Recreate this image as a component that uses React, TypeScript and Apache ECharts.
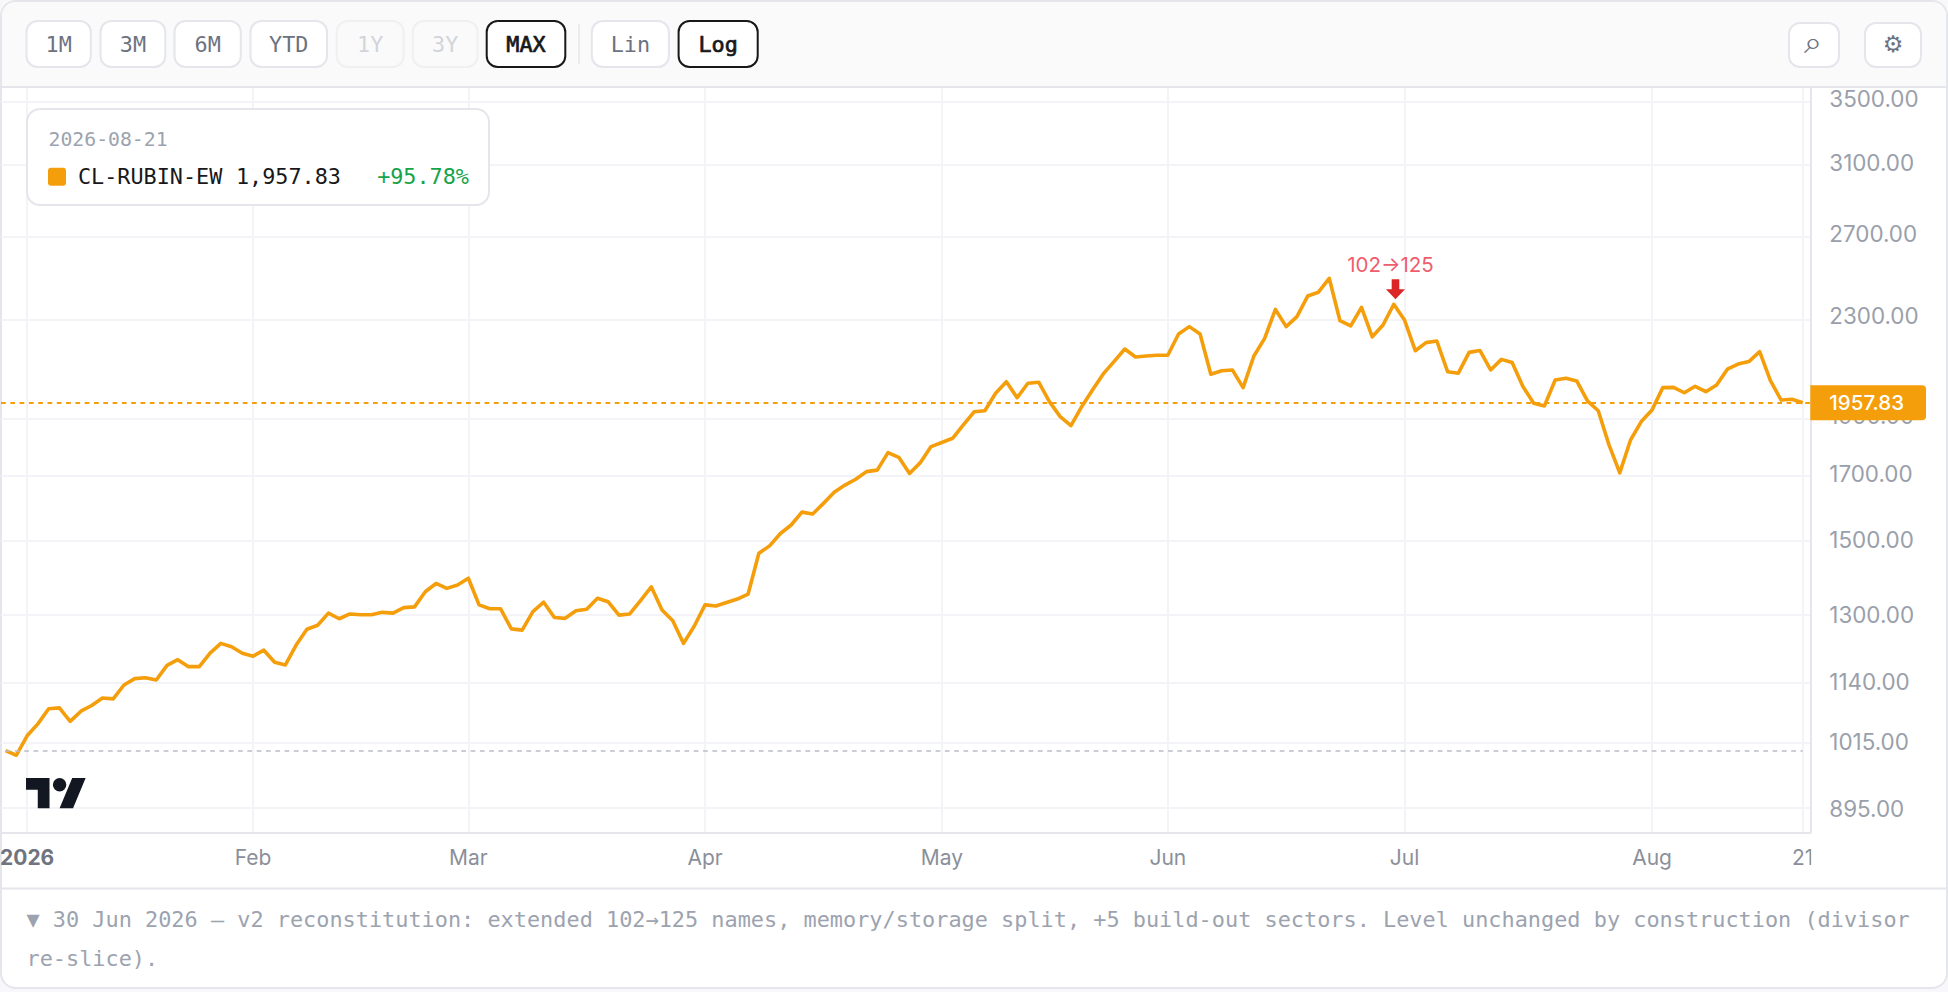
import React, { useEffect, useRef } from "react";
import * as echarts from "echarts";

const values = [
  1000, 991, 1029, 1053, 1084, 1086, 1058, 1079, 1091, 1107, 1105, 1135, 1149, 1151, 1146, 1179,
  1192, 1176, 1176, 1207, 1230, 1222, 1207, 1200, 1214, 1186, 1180, 1226, 1264, 1274, 1304, 1290,
  1302, 1300, 1300, 1306, 1304, 1318, 1320, 1359, 1381, 1368, 1377, 1395, 1325, 1315, 1315, 1265,
  1262, 1308, 1332, 1293, 1291, 1310, 1314, 1342, 1333, 1299, 1302, 1336, 1372, 1312, 1285, 1230,
  1272, 1325, 1322, 1331, 1340, 1353, 1464, 1485, 1521, 1546, 1585, 1579, 1612, 1647, 1670, 1689,
  1714, 1719, 1778, 1762, 1708, 1744, 1799, 1813, 1828, 1876, 1924, 1928, 1994, 2039, 1977, 2033,
  2037, 1962, 1906, 1873, 1943, 2007, 2070, 2120, 2172, 2139, 2143, 2146, 2146, 2236, 2268, 2236,
  2069, 2083, 2086, 2016, 2143, 2217, 2345, 2268, 2312, 2406, 2424, 2490, 2294, 2271, 2354, 2224,
  2275, 2368, 2297, 2165, 2199, 2206, 2079, 2073, 2158, 2166, 2086, 2129, 2116, 2020, 1956, 1946,
  2046, 2053, 2042, 1965, 1928, 1805, 1710, 1822, 1888, 1931, 2016, 2017, 1996, 2021, 2000, 2026,
  2089, 2110, 2120, 2161, 2043, 1968, 1971, 1957.83,
];
const monthIndex = [2, 23, 43, 65, 87, 108, 130, 153, 167];
const monthLabels = ["2026", "Feb", "Mar", "Apr", "May", "Jun", "Jul", "Aug", "21"];
const priceTicks = [895, 1015, 1140, 1300, 1500, 1700, 1900, 2300, 2700, 3100, 3500];
const priceLabelAnchors = [894.5, 1017, 1142, 1301, 1502, 1708, 1909, 2318, 2713, 3116, 3525];
const lastPrice = 1957.83;
const basePrice = 1000;
const markerIndex = 129;
const markerLabel = "102→125";
const rangeLabels = ["1M", "3M", "6M", "YTD", "1Y", "3Y", "MAX"];
const scaleLabels = ["Lin", "Log"];
const legendDate = "2026-08-21";
const legendName = "CL-RUBIN-EW";
const legendValue = "1,957.83";
const legendChange = "+95.78%";
const noteLines = [
  "▼ 30 Jun 2026 — v2 reconstitution: extended 102→125 names, memory/storage split, +5 build-out sectors. Level unchanged by construction (divisor",
  "re-slice).",
];

echarts.graphic.registerShape(
  "tvLogo",
  echarts.graphic.extendPath(
    "M14 22H7V11H0V4h14v18zM28 22h-8l7.5-18h8L28 22zM24 8a4 4 0 1 1-8 0a4 4 0 0 1 8 0z",
    {},
  ),
);

const ORANGE = "#f59e0b";
const GRID = "#f3f4f7";
const BORDER = "#e5e6eb";
const MUTED = "#9ca3af";
const MONO = "'DejaVu Sans Mono', monospace";
const UI = "Inter, sans-serif";
const monoFont = `21.8px ${MONO}`;
const noteFont = `21.89px ${MONO}`;
const dateFont = `19.8px ${MONO}`;

function box(x0: number, y0: number, x1: number, y1: number, fill: string, stroke: string, lw = 2, r: any = 11, z = 5) {
  return {
    type: "rect",
    z,
    silent: true,
    shape: { x: x0, y: y0, width: x1 - x0, height: y1 - y0, r },
    style: { fill, stroke, lineWidth: lw },
  };
}
function label(text: string, x: number, y: number, fill: string, align = "center", font = monoFont, z = 6, heavy = false) {
  return {
    type: "text",
    z,
    silent: true,
    x,
    y,
    style: {
      text,
      font,
      fill,
      align,
      verticalAlign: "middle",
      textAlign: align,
      textVerticalAlign: "middle",
      ...(heavy ? { stroke: fill, lineWidth: 0.7 } : {}),
    },
  };
}

function buildGraphics() {
  const rangeBoxes = [
    [26.5, 90.8], [100.5, 165.3], [174.5, 240.8], [250.5, 327], [336.7, 403.6], [412.8, 477.6], [486.7, 565.3],
  ];
  const scaleBoxes = [[591.8, 668.9], [678.6, 757.7]];
  const els: any[] = [
    box(1, 1, 1947, 988, "#ffffff", BORDER, 2, 15, -5),
    box(2, 2, 1946, 87, "#fafafa", "transparent", 0, [14, 14, 0, 0], -4),
    { type: "line", z: 4, silent: true, shape: { x1: 1, y1: 87, x2: 1947, y2: 87 }, style: { stroke: BORDER, lineWidth: 2 } },
    { type: "line", z: -3, silent: true, shape: { x1: 1, y1: 888.5, x2: 1947, y2: 888.5 }, style: { stroke: BORDER, lineWidth: 2 } },
  ];
  rangeLabels.forEach((t, i) => {
    const [a, b] = rangeBoxes[i];
    const disabled = t === "1Y" || t === "3Y";
    const active = t === "MAX";
    els.push(box(a, 21, b, 67, active ? "#fff" : disabled ? "#fafafa" : "#fff", active ? "#18181b" : disabled ? "#f0f0f3" : BORDER));
    els.push(label(t, (a + b) / 2, 44.5, active ? "#18181b" : disabled ? "#d1d5db" : "#6b7280", "center", monoFont, 6, active));
  });
  els.push({ type: "line", z: 5, silent: true, shape: { x1: 579, y1: 24, x2: 579, y2: 64 }, style: { stroke: BORDER, lineWidth: 1.5 } });
  scaleLabels.forEach((t, i) => {
    const [a, b] = scaleBoxes[i];
    const active = t === "Log";
    els.push(box(a, 21, b, 67, "#fff", active ? "#18181b" : BORDER));
    els.push(label(t, (a + b) / 2, 44.5, active ? "#18181b" : "#6b7280", "center", monoFont, 6, active));
  });
  els.push(box(1789, 23, 1839, 67, "#fff", BORDER));
  els.push(box(1865, 23, 1921, 67, "#fff", BORDER));
  els.push(label("⌕", 1813, 42, "#6b7280", "center", "32px 'DejaVu Sans'"));
  els.push(label("⚙", 1893, 44, "#6b7280", "center", "23px 'DejaVu Sans'"));

  els.push(box(27, 109, 489, 205, "#ffffff", BORDER, 2, 13, 20));
  els.push(label(legendDate, 48.5, 139.5, MUTED, "left", dateFont, 21));
  els.push(box(48, 167.7, 66, 185.7, ORANGE, "transparent", 0, 3, 21));
  els.push(label(legendName, 78, 176.5, "#18181b", "left", monoFont, 21));
  els.push(label(legendValue, 236, 176.5, "#18181b", "left", monoFont, 21));
  els.push(label(legendChange, 469, 176.5, "#16a34a", "right", monoFont, 21));

  els.push({ type: "tvLogo", z: 3, silent: true, x: 26, y: 771.3, scaleX: 1.68, scaleY: 1.68, style: { fill: "#131722" } });
  els.push(label(noteLines[0], 26.5, 919.5, MUTED, "left", noteFont));
  els.push(label(noteLines[1], 26.5, 958, MUTED, "left", noteFont));
  els.push(box(1811.2, 836, 1945, 887, "#ffffff", "transparent", 0, 0, 10));
  return els;
}

export default function App() {
  const ref = useRef<HTMLDivElement>(null);
  useEffect(() => {
    document.body.style.margin = "0";
    document.body.style.background = "#f8f8fa";
    const chart = echarts.init(ref.current!, undefined, { renderer: "svg" });
    chart.setOption({
      animation: false,
      backgroundColor: "transparent",
      graphic: { elements: buildGraphics() },
      grid: { left: 1, top: 87, width: 1809.3, height: 745.4, containLabel: false, outerBoundsMode: "none" },
      xAxis: {
        type: "value",
        min: -0.4275,
        max: 167.706,
        axisLine: { show: true, onZero: false, lineStyle: { color: BORDER, width: 2 } },
        axisTick: { show: false, customValues: monthIndex },
        splitLine: { show: true, lineStyle: { color: GRID, width: 2 } },
        axisLabel: {
          customValues: monthIndex,
          margin: 14.5,
          color: "#8b8f9a",
          fontFamily: UI,
          fontSize: 21,
          hideOverlap: false,
          showMinLabel: true,
          showMaxLabel: true,
          formatter: (v: number) => {
            const t = monthLabels[monthIndex.indexOf(Math.round(v))] ?? "";
            return t === "2026" ? `{y|${t}}` : t;
          },
          rich: { y: { fontFamily: UI, fontSize: 21, fontWeight: 700, color: "#6f7480" } },
        },
      },
      yAxis: {
        type: "log",
        logBase: 10,
        position: "right",
        min: 853.8,
        max: 3603,
        axisLine: { show: true, onZero: false, lineStyle: { color: BORDER, width: 2 } },
        axisTick: { show: false, customValues: priceTicks },
        splitLine: { show: true, lineStyle: { color: GRID, width: 2 } },
        minorTick: { show: false },
        axisLabel: {
          customValues: priceLabelAnchors,
          margin: 19,
          align: "left",
          color: "#9aa0ab",
          fontFamily: UI,
          fontSize: 22.4,
          showMinLabel: true,
          showMaxLabel: true,
          formatter: (v: number) => {
            let best = 0;
            priceLabelAnchors.forEach((a, i) => {
              if (Math.abs(a - v) < Math.abs(priceLabelAnchors[best] - v)) best = i;
            });
            return priceTicks[best].toFixed(2);
          },
        },
      },
      series: [
        {
          type: "line",
          z: 3,
          data: values.map((v, i) => [i, v]),
          showSymbol: false,
          symbol: "none",
          smooth: false,
          clip: true,
          lineStyle: { color: ORANGE, width: 3.6, join: "round" },
          markLine: {
            silent: true,
            symbol: ["none", "none"],
            animation: false,
            data: [
              {
                yAxis: lastPrice,
                lineStyle: { color: ORANGE, width: 2, type: [4.7, 4.6] },
                label: {
                  show: true,
                  position: "end",
                  distance: 0,
                  formatter: lastPrice.toFixed(2),
                  color: "#fff",
                  fontFamily: UI,
                  fontSize: 20.5,
                  fontWeight: 500,
                  backgroundColor: ORANGE,
                  padding: [7, 22, 7, 19],
                  borderRadius: [0, 4, 4, 0],
                },
              },
              [
                {
                  coord: [0, basePrice],
                  lineStyle: { color: "#b9bdc7", width: 1.6, type: [4.7, 4.6] },
                  label: { show: false },
                },
                { coord: [values.length - 1, basePrice] },
              ],
            ],
          },
          markPoint: {
            silent: true,
            animation: false,
            data: [
              {
                coord: [markerIndex, values[markerIndex]],
                symbol: "path://M6 0h8v10h6L10 20L0 10h6z",
                symbolSize: [19, 20],
                symbolOffset: [1.7, -15],
                itemStyle: { color: "#dc2626" },
                label: {
                  show: true,
                  position: "top",
                  distance: 4,
                  offset: [-5, 0],
                  formatter: markerLabel,
                  color: "#ef5d6c",
                  fontFamily: UI,
                  fontSize: 20.5,
                },
              },
            ],
          },
        },
      ],
    });
    return () => chart.dispose();
  }, []);
  return <div ref={ref} style={{ width: 1948, height: 992 }} />;
}
